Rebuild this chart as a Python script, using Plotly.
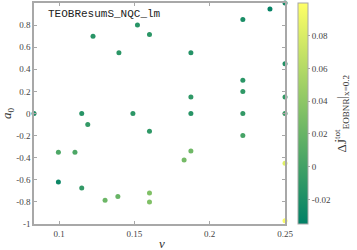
import plotly.graph_objects as go

nu = [0.0833, 0.115, 0.119, 0.1225, 0.1397, 0.149, 0.152, 0.160, 0.160,
      0.0995, 0.1105, 0.0995, 0.115, 0.1305, 0.139, 0.160, 0.160,
      0.183, 0.1875, 0.1875, 0.1875, 0.1875,
      0.222, 0.222, 0.222, 0.222, 0.222,
      0.240, 0.25, 0.25, 0.25, 0.25, 0.25, 0.25]
a0 = [0.0, 0.0, -0.10, 0.70, 0.55, 0.0, 0.80, 0.715, -0.16,
      -0.35, -0.35, -0.62, -0.675, -0.785, -0.75, -0.72, -0.80,
      -0.42, -0.34, 0.55, 0.15, 0.0,
      0.85, 0.30, 0.20, 0.0, -0.20,
      0.945, 1.0, 0.45, 0.15, 0.0, -0.45, -0.97]
dJ = [-0.018, -0.014, -0.008, -0.014, -0.012, -0.012, -0.014, -0.012, -0.010,
      0.006, 0.006, -0.028, -0.008, 0.022, 0.020, 0.033, 0.033,
      0.027, 0.024, -0.016, -0.010, -0.014,
      -0.021, -0.012, -0.010, -0.008, 0.002,
      -0.032, -0.025, -0.017, -0.008, -0.004, 0.083, 0.097]

x_ticks = [0.1, 0.15, 0.2, 0.25]
x_ticktext = ["0.1", "0.15", "0.2", "0.25"]
y_ticks = [-1, -0.8, -0.6, -0.4, -0.2, 0, 0.2, 0.4, 0.6, 0.8, 1]
y_ticktext = ["-1", "-0.8", "-0.6", "-0.4", "-0.2", "0", "0.2", "0.4", "0.6", "0.8", "1"]
c_ticks = [-0.02, 0, 0.02, 0.04, 0.06, 0.08]
c_ticktext = ["-0.02", "0", "0.02", "0.04", "0.06", "0.08"]

serif = "Liberation Serif"
axcol = "#a8a8a8"
tickfont = dict(family=serif, size=9, color="#444")
titlefont = dict(family=serif, size=13, color="#333")

W, H = 357, 250
L, R, T, B = 34, 71.5, 3, 26
pw, ph = W - L - R, H - T - B


def px(x):
    return (x - L) / pw


def py(y):
    return (H - B - y) / ph


fig = go.Figure(go.Scatter(
    x=nu, y=a0, mode="markers", cliponaxis=False, hoverinfo="skip",
    marker=dict(
        size=5, color=dJ, cmin=-0.035, cmax=0.1,
        colorscale=[[0, "rgb(0,128,102)"], [1, "rgb(255,255,102)"]],
        line=dict(width=0),
        colorbar=dict(
            x=px(299), xanchor="left", xpad=0, y=0.5, yanchor="middle", len=1, lenmode="fraction",
            ypad=0, thickness=10, outlinecolor=axcol, outlinewidth=1,
            tickvals=c_ticks, ticktext=c_ticktext, ticks="outside", ticklen=2,
            tickcolor=axcol, tickfont=tickfont,
        ),
    ),
))

fig.update_layout(
    width=W, height=H,
    margin=dict(l=L, r=R, t=T, b=B, autoexpand=False),
    paper_bgcolor="white", plot_bgcolor="white",
    showlegend=False,
    font=dict(family=serif, color="#444"),
    annotations=[
        dict(x=px(46), y=py(14), xref="paper", yref="paper", xanchor="left", yanchor="middle",
             text="TEOBResumS_NQC_lm", showarrow=False,
             font=dict(family="Liberation Mono", size=11, color="#222")),
        dict(x=px(162), y=py(244), xref="paper", yref="paper", xanchor="center", yanchor="middle",
             text="<i>ν</i>", showarrow=False, font=titlefont),
        dict(x=px(7), y=py(113), xref="paper", yref="paper", xanchor="center", yanchor="middle",
             text="<i>a</i><sub>0</sub>", showarrow=False, textangle=-90, font=titlefont),
        dict(x=px(342), y=py(113), xref="paper", yref="paper", xanchor="center", yanchor="middle",
             text="ΔJ̇<sup>tot</sup><sub>EOBNR</sub>|<sub>x=0.2</sub>", showarrow=False,
             textangle=-90, font=titlefont),
    ],
)
fig.update_xaxes(
    range=[0.0833, 0.25], tickvals=x_ticks, ticktext=x_ticktext, automargin=False,
    showgrid=False, zeroline=False, showline=True, linecolor=axcol, linewidth=1.5,
    mirror="ticks", ticks="inside", ticklen=3, tickcolor=axcol, tickfont=tickfont,
)
fig.update_yaxes(
    range=[-1, 1], tickvals=y_ticks, ticktext=y_ticktext, automargin=False,
    showgrid=False, zeroline=False, showline=True, linecolor=axcol, linewidth=1.5,
    mirror="ticks", ticks="inside", ticklen=3, tickcolor=axcol, tickfont=tickfont,
)

fig.write_html("out.html", config={"displayModeBar": False},
               post_script="document.body.style.margin='0';document.body.style.overflow='hidden';")
